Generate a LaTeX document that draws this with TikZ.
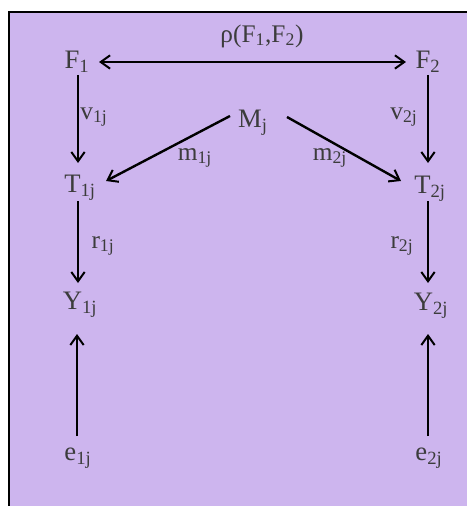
\documentclass[tikz,border=0pt]{standalone}
\usepackage{fontspec}
\setmainfont{Liberation Serif}
\usepackage{xcolor}
\usetikzlibrary{arrows.meta}
\definecolor{lavender}{RGB}{205,181,238}
\definecolor{textgray}{RGB}{60,60,60}

\begin{document}
\begin{tikzpicture}[x=0.75pt,y=-0.75pt,
    var/.style={text=textgray,font=\fontsize{20}{24}\selectfont,inner sep=1pt},
    lbl/.style={text=textgray,font=\fontsize{19}{23}\selectfont,inner sep=1pt},
    barb/.tip={Straight Barb[length=7pt,width=10pt,line width=1.5pt]},
    arr/.style={-barb,line width=1.8pt}]
    \useasboundingbox (0,0) rectangle (467,506);
    \fill[lavender] (9,12) rectangle (467,506);
    \draw[line width=1.4pt] (9,506) -- (9,12) -- (467,12);

    \node[var] (F1) at (77,62) {F\textsubscript{1}};
    \node[var] (F2) at (428,62) {F\textsubscript{2}};
    \node[var] (M) at (253,123) {M\textsubscript{j}};
    \node[var] (T1) at (80,188) {T\textsubscript{1j}};
    \node[var] (T2) at (430,189) {T\textsubscript{2j}};
    \node[var] (Y1) at (80,305) {Y\textsubscript{1j}};
    \node[var] (Y2) at (431,306) {Y\textsubscript{2j}};
    \node[var] (e1) at (78,458) {e\textsubscript{1j}};
    \node[var] (e2) at (429,458) {e\textsubscript{2j}};

    \draw[line width=1.8pt,barb-barb,shorten <=6pt,shorten >=6pt] (F1) -- (F2);
    \node[lbl] (rho) at (262,36) {ρ(F\textsubscript{1},F\textsubscript{2})};

    \draw[arr] ([shift={(1,13)}]F1.center) -- ([shift={(-2,-25)}]T1.center);
    \draw[arr] ([shift={(0,13)}]F2.center) -- ([shift={(-2,-26)}]T2.center);
    \node[lbl] (v1) at (94,117) {v\textsubscript{1j}};
    \node[lbl] (v2) at (404,117) {v\textsubscript{2j}};

    \draw[arr] ([shift={(-23,-7)}]M.center) -- ([shift={(26,-7)}]T1.center);
    \draw[arr] ([shift={(34,-6)}]M.center) -- ([shift={(-29,-8)}]T2.center);
    \node[lbl] (m1) at (195,158) {m\textsubscript{1j}};
    \node[lbl] (m2) at (330,158) {m\textsubscript{2j}};

    \draw[arr] ([shift={(-2,13)}]T1.center) -- ([shift={(-2,-22)}]Y1.center);
    \draw[arr] ([shift={(-2,12)}]T2.center) -- ([shift={(-3,-23)}]Y2.center);
    \node[lbl] (r1) at (103,246) {r\textsubscript{1j}};
    \node[lbl] (r2) at (402,246) {r\textsubscript{2j}};

    \draw[arr] ([shift={(-1,-22)}]e1.center) -- ([shift={(-3,29)}]Y1.center);
    \draw[arr] ([shift={(-1,-22)}]e2.center) -- ([shift={(-3,28)}]Y2.center);
\end{tikzpicture}
\end{document}
